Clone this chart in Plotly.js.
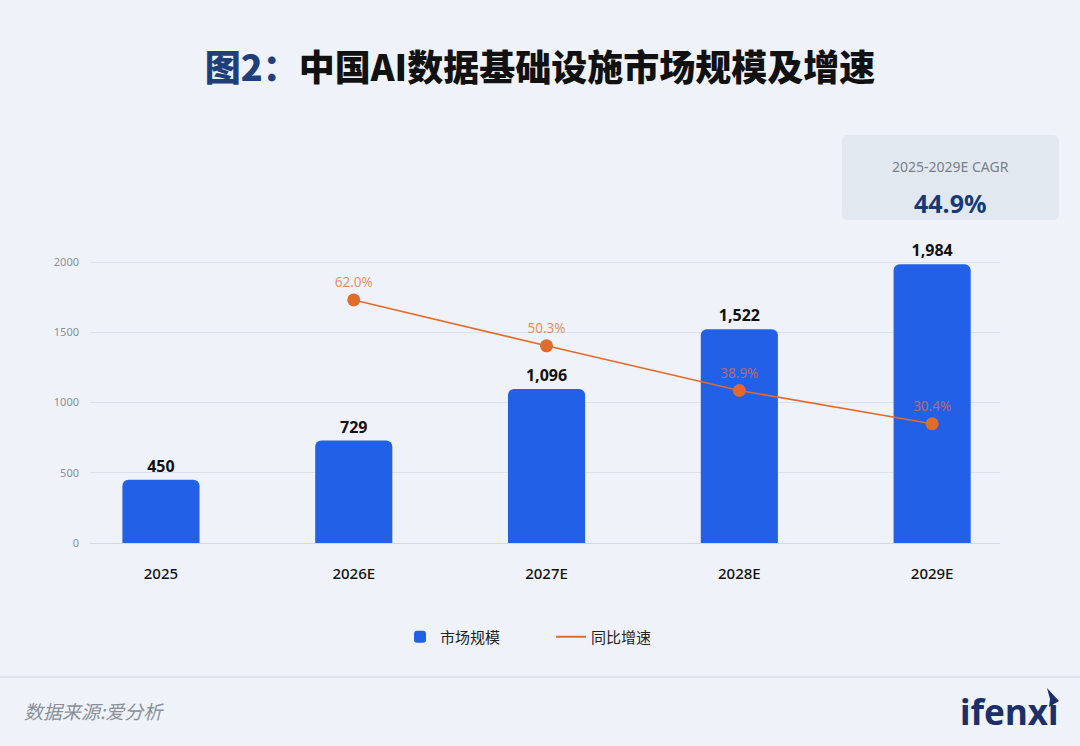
<!DOCTYPE html>
<html><head><meta charset="utf-8">
<script src="https://cdn.plot.ly/plotly-3.0.1.min.js"></script>
<style>html,body{margin:0;padding:0;background:#eff3f9;}#c{width:1080px;height:746px;}</style>
</head><body><div id="c"></div>
<script>
const years = ['2025','2026E','2027E','2028E','2029E'];
const marketSize = [450, 729, 1096, 1522, 1984];
const growthYears = ['2026E','2027E','2028E','2029E'];
const growthRate = [62.0, 50.3, 38.9, 30.4];
const cagrLabel = '2025-2029E CAGR';
const cagrValue = '44.9%';

const FONT = 'Noto Sans, Noto Sans CJK SC, sans-serif';
const L = 90, R = 1000, T = 230, B = 543;
const px = x => (x - L) / (R - L);
const py = y => (B - y) / (B - T);

function roundRect(x0, y0, x1, y1, r) {
  const P = (x, y) => px(x) + ',' + py(y);
  return 'M' + P(x0 + r, y0) + ' L' + P(x1 - r, y0) + ' Q' + P(x1, y0) + ' ' + P(x1, y0 + r) +
    ' L' + P(x1, y1 - r) + ' Q' + P(x1, y1) + ' ' + P(x1 - r, y1) +
    ' L' + P(x0 + r, y1) + ' Q' + P(x0, y1) + ' ' + P(x0, y1 - r) +
    ' L' + P(x0, y0 + r) + ' Q' + P(x0, y0) + ' ' + P(x0 + r, y0) + ' Z';
}

const bars = {
  type: 'bar', name: '市场规模', x: years, y: marketSize,
  width: 0.40,
  marker: {color: '#2360e8', cornerradius: 6},
  texttemplate: '%{y:,}', textposition: 'outside', cliponaxis: false, constraintext: 'none',
  textfont: {family: FONT, size: 16, color: '#111', weight: 'bold'},
  hoverinfo: 'skip'
};
const line = {
  type: 'scatter', mode: 'lines+markers+text', name: '同比增速', showlegend: false,
  x: growthYears, y: growthRate, yaxis: 'y2',
  line: {color: '#e26b2c', width: 1.6},
  marker: {color: '#e26b2c', size: 13},
  texttemplate: '%{y:.1f}%', textposition: 'top center', cliponaxis: false,
  textfont: {family: FONT, size: 13.5, color: 'rgba(226,112,52,0.78)'},
  hoverinfo: 'skip'
};
const lineLegend = {
  type: 'scatter', mode: 'lines', name: '同比增速', x: [null], y: [null], yaxis: 'y2',
  line: {color: '#e26b2c', width: 2}, hoverinfo: 'skip'
};

const layout = {
  width: 1080, height: 746,
  paper_bgcolor: '#eff3f9', plot_bgcolor: '#eff3f9',
  margin: {l: L, r: 1080 - R, t: T, b: 746 - B, pad: 0, autoexpand: false},
  font: {family: FONT, color: '#222'},
  title: {
    text: '<span style="color:#1f3f7a">图2：</span>中国AI数据基础设施市场规模及增速',
    font: {family: 'Noto Sans CJK SC, sans-serif', size: 36, color: '#111', weight: 900},
    x: 0.5, xanchor: 'center', xref: 'container', y: 1 - 68 / 746, yanchor: 'middle', yref: 'container'
  },
  xaxis: {
    type: 'category', range: [-0.368, 4.352], showgrid: false, zeroline: false, showline: false,
    ticks: '', ticklabelstandoff: 20,
    tickfont: {family: FONT, size: 15, color: '#111', weight: 500}
  },
  yaxis: {
    range: [0, (B - T) / 0.1405], tickvals: [0, 500, 1000, 1500, 2000],
    showgrid: true, gridcolor: '#dbe1ea', gridwidth: 1, zeroline: true, zerolinecolor: '#d3d9e3',
    showline: false, ticks: '', ticklabelstandoff: 10,
    tickfont: {family: FONT, size: 11, color: '#8a8f99'}
  },
  yaxis2: {
    overlaying: 'y', side: 'right', range: [0, (B - T) / 3.92],
    showgrid: false, zeroline: false, showticklabels: false, showline: false, ticks: ''
  },
  legend: {
    orientation: 'h', x: 400 / 1080, xanchor: 'left', xref: 'container', y: py(637), yanchor: 'middle',
    font: {family: 'Noto Sans CJK SC, sans-serif', size: 15, color: '#222'},
    tracegroupgap: 0, bgcolor: 'rgba(0,0,0,0)', entrywidth: 106
  },
  shapes: [
    {type: 'path', xref: 'paper', yref: 'paper', path: roundRect(842, 135, 1059, 220, 6),
      fillcolor: '#e2e8f0', line: {width: 0}, layer: 'below'},
    {type: 'line', xref: 'paper', yref: 'paper', x0: px(0), x1: px(1080), y0: py(677), y1: py(677),
      line: {color: '#cdd4de', width: 1.2}},
    {type: 'path', xref: 'paper', yref: 'paper',
      path: 'M' + px(1047) + ',' + py(688) + ' L' + px(1059) + ',' + py(701) + ' L' + px(1049) + ',' + py(707) + ' L' + px(1050) + ',' + py(699) + ' Z',
      fillcolor: '#1b2f6a', line: {width: 0}}
  ],
  annotations: [
    {xref: 'paper', yref: 'paper', x: px(950), y: py(166), text: cagrLabel, showarrow: false,
      xanchor: 'center', yanchor: 'middle', font: {family: FONT, size: 14, color: '#7a7f88'}},
    {xref: 'paper', yref: 'paper', x: px(950), y: py(203), text: cagrValue, showarrow: false,
      xanchor: 'center', yanchor: 'middle', font: {family: FONT, size: 25, color: '#173a75', weight: 'bold'}},
    {xref: 'paper', yref: 'paper', x: px(22), y: py(710), text: '数据来源:爱分析', showarrow: false,
      xanchor: 'left', yanchor: 'middle',
      font: {family: 'Noto Sans CJK SC, sans-serif', size: 19, color: '#8a8f99', style: 'italic'}},
    {xref: 'paper', yref: 'paper', x: px(1060), y: py(711), text: 'ifenxı', showarrow: false,
      xanchor: 'right', yanchor: 'middle',
      font: {family: FONT, size: 35, color: '#1b2f6a', weight: 'bold'}}
  ]
};

Plotly.newPlot('c', [bars, line, lineLegend], layout, {displayModeBar: false, staticPlot: true});
</script></body></html>
